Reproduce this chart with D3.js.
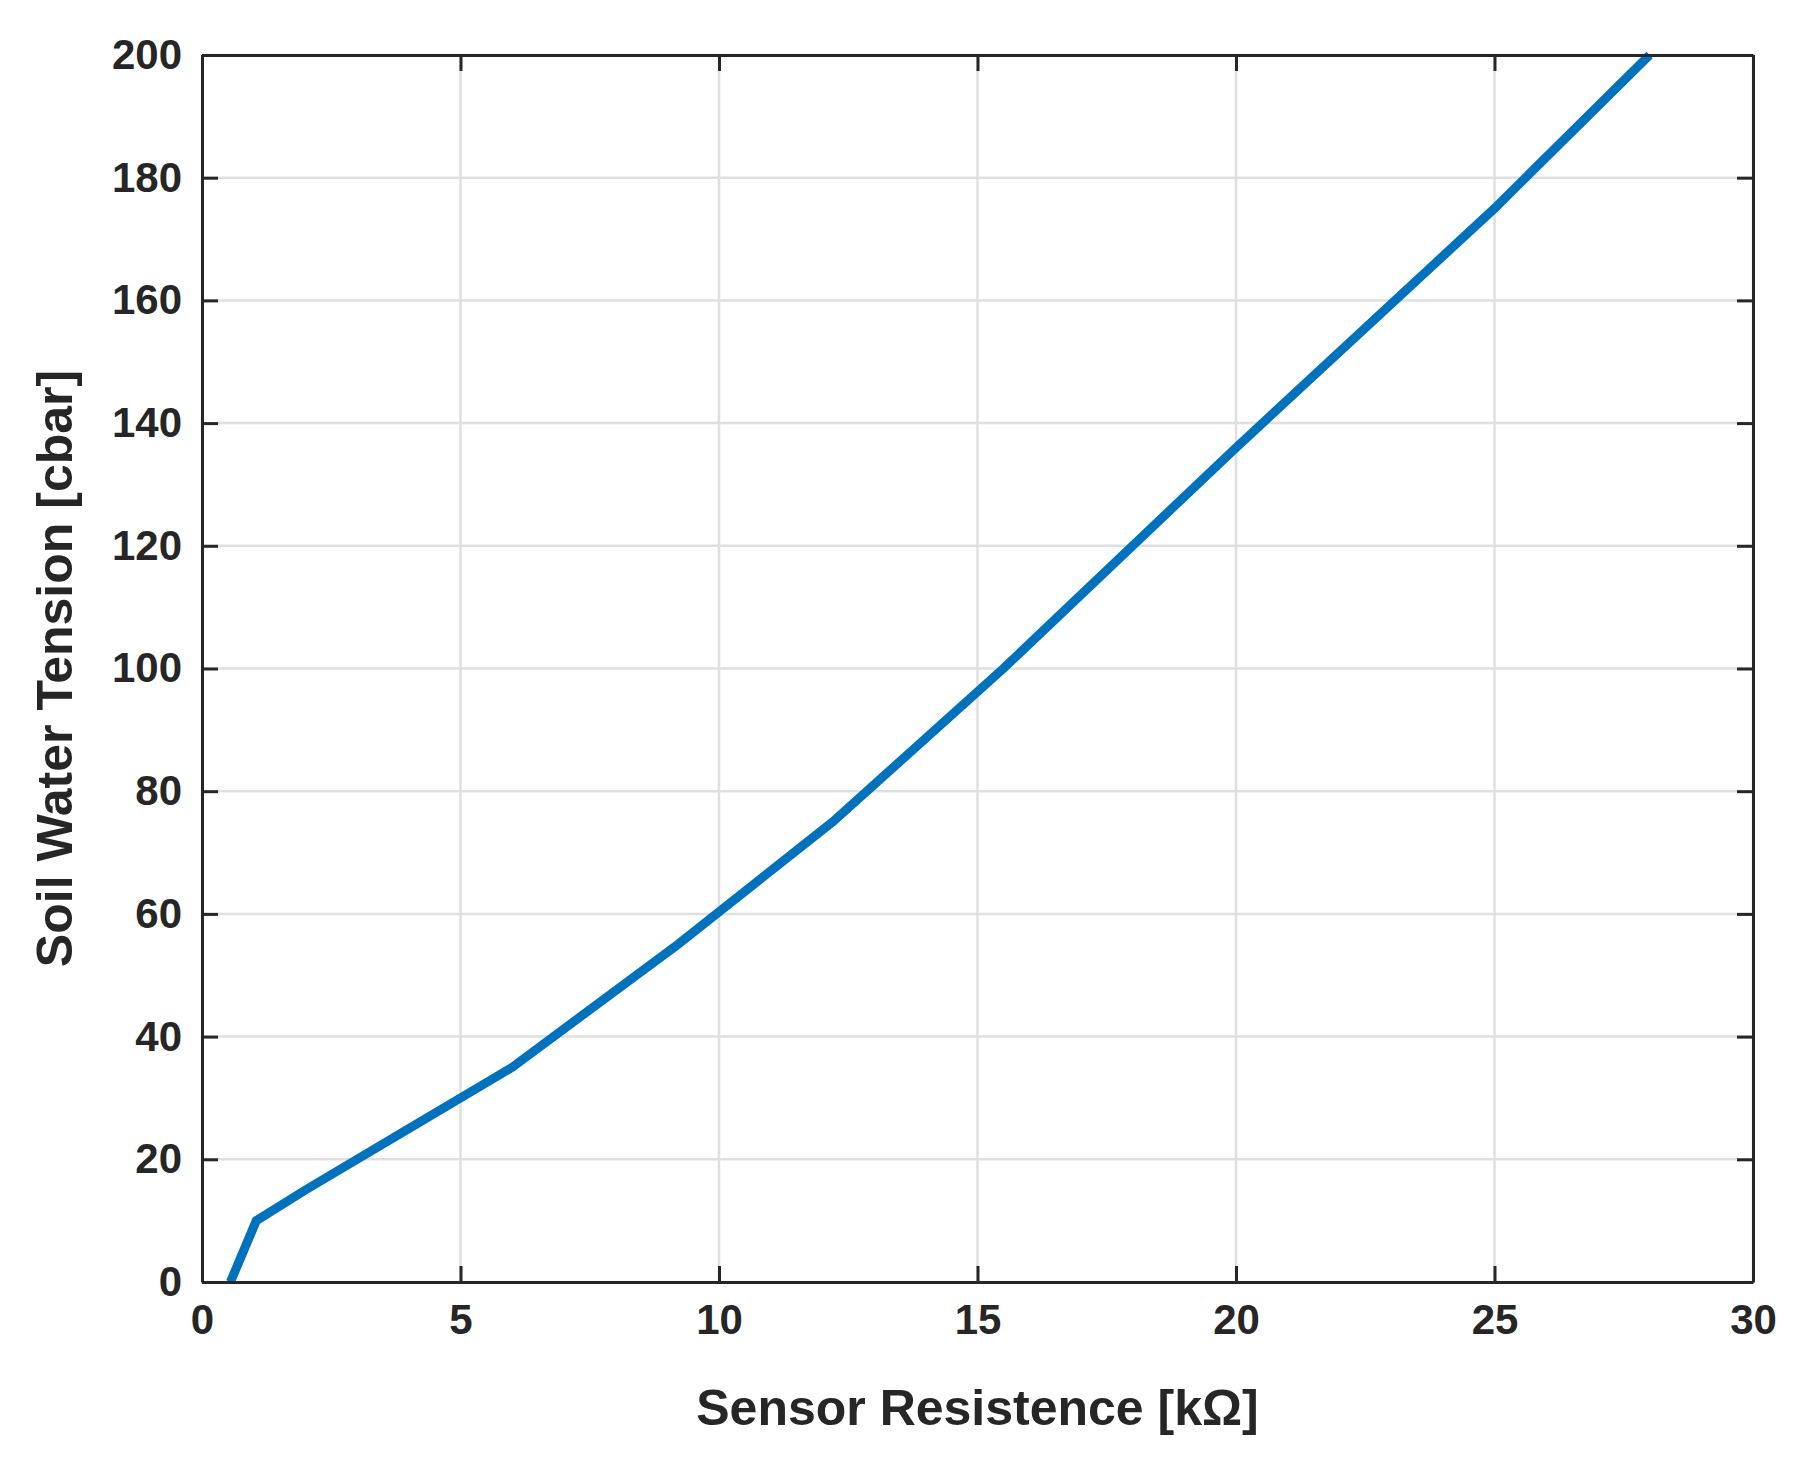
<!DOCTYPE html>
<html><head><meta charset="utf-8">
<script src="https://cdn.jsdelivr.net/npm/d3@7"></script>
<style>body{margin:0;background:#fff}svg text{font-family:"Liberation Sans",Arial,sans-serif;font-weight:bold;fill:#262626}</style>
</head><body><svg id="c" width="1809" height="1459"></svg>
<script>
const resistance=[0.55,1.05,2,4,6,9.2,12.2,15.5,20,25,28];
const tension=[0,10,15,25,35,55,75,100,136,175,200];
const xTicks=[0,5,10,15,20,25,30];
const yTicks=[0,20,40,60,80,100,120,140,160,180,200];
const L=202,R=1753,T=55,B=1282;
const svg=d3.select("#c");
const x=d3.scaleLinear().domain([0,30]).range([L,R]);
const y=d3.scaleLinear().domain([0,200]).range([B,T]);
const g=svg.append("g");
g.selectAll(".gx").data(xTicks).join("line").attr("x1",d=>x(d)).attr("x2",d=>x(d)).attr("y1",T).attr("y2",B).attr("stroke","#dfdfdf").attr("stroke-width",2.5);
g.selectAll(".gy").data(yTicks).join("line").attr("y1",d=>y(d)).attr("y2",d=>y(d)).attr("x1",L).attr("x2",R).attr("stroke","#dfdfdf").attr("stroke-width",2.5);
const line=d3.line().x((d,i)=>x(resistance[i])).y(d=>y(d));
svg.append("path").attr("d",line(tension)).attr("fill","none").attr("stroke","#0072BD").attr("stroke-width",9);
const ax=(sel)=>{sel.selectAll("path").attr("stroke","#262626").attr("stroke-width",3);sel.selectAll("line").attr("stroke","#262626").attr("stroke-width",3);sel.selectAll("text").style("font-size","42px").attr("fill","#262626");};
svg.append("g").attr("transform",`translate(0,${B})`).call(d3.axisBottom(x).tickValues(xTicks).tickSize(-16).tickSizeOuter(0).tickPadding(22)).call(ax);
svg.append("g").attr("transform",`translate(${L},0)`).call(d3.axisLeft(y).tickValues(yTicks).tickSize(-16).tickSizeOuter(0).tickPadding(20)).call(ax);
svg.append("g").attr("transform",`translate(0,${T})`).call(d3.axisTop(x).tickValues(xTicks).tickSize(-16).tickSizeOuter(0).tickFormat("")).call(ax);
svg.append("g").attr("transform",`translate(${R},0)`).call(d3.axisRight(y).tickValues(yTicks).tickSize(-16).tickSizeOuter(0).tickFormat("")).call(ax);
svg.append("text").attr("x",(L+R)/2).attr("y",1425).attr("text-anchor","middle").style("font-size","50px").text("Sensor Resistence [kΩ]");
svg.append("text").attr("transform",`translate(72,${(T+B)/2}) rotate(-90)`).attr("text-anchor","middle").style("font-size","50px").text("Soil Water Tension [cbar]");
</script></body></html>
